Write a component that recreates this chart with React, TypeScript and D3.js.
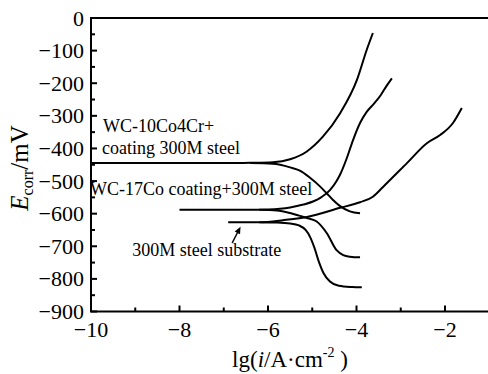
import React from "react";
import * as d3 from "d3";

// ---- data ----
const xTicks = [-10, -8, -6, -4, -2];
const xMinor = [-9, -7, -5, -3, -1];
const yTicks = [0, -100, -200, -300, -400, -500, -600, -700, -800, -900];
const yMinor = [-50, -150, -250, -350, -450, -550, -650, -750, -850];

// WC-10Co4Cr + 300M steel
const coCrAnodic: [number, number][] = [
  [-10, -445], [-7, -445], [-6.4, -444], [-5.89, -442], [-5.5, -433], [-5.13, -410],
  [-4.76, -364], [-4.37, -292], [-3.99, -190], [-3.77, -98], [-3.63, -46],
];
const coCrCathodic: [number, number][] = [
  [-6.4, -445], [-5.89, -447], [-5.5, -458], [-5.28, -468], [-5.05, -490], [-4.82, -517],
  [-4.67, -538], [-4.53, -558], [-4.37, -577], [-4.15, -593], [-3.92, -599],
];
// WC-17Co + 300M steel
const co17Anodic: [number, number][] = [
  [-8, -588], [-6.5, -588], [-6.0, -587], [-5.5, -581], [-5.2, -572], [-4.97, -562],
  [-4.8, -550], [-4.6, -528], [-4.45, -500], [-4.37, -480], [-4.22, -430], [-4.08, -375],
  [-3.92, -322], [-3.77, -288], [-3.6, -262], [-3.45, -236], [-3.32, -208], [-3.2, -185],
];
const co17Cathodic: [number, number][] = [
  [-6.2, -588], [-5.8, -590], [-5.5, -598], [-5.3, -606], [-5.1, -614], [-4.9, -624],
  [-4.67, -660], [-4.45, -712], [-4.3, -727], [-4.15, -732], [-3.92, -734],
];
// 300M steel substrate
const steelAnodic: [number, number][] = [
  [-6.9, -626], [-6.2, -626], [-5.66, -620], [-5.12, -610], [-4.37, -582], [-3.92, -565],
  [-3.63, -548], [-3.4, -518], [-2.86, -445], [-2.41, -384], [-2.11, -359], [-1.82, -322],
  [-1.62, -276],
];
const steelCathodic: [number, number][] = [
  [-6.2, -626], [-5.8, -627], [-5.5, -630], [-5.3, -636], [-5.15, -650], [-5.05, -671],
  [-4.95, -705], [-4.85, -748], [-4.75, -781], [-4.6, -808], [-4.4, -821], [-4.1, -825],
  [-3.88, -826],
];

const series = [coCrAnodic, coCrCathodic, co17Anodic, co17Cathodic, steelAnodic, steelCathodic];

const labels = [
  { text: "WC-10Co4Cr+", x: -9.73, y: -350 },
  { text: "coating 300M steel", x: -9.75, y: -418 },
  { text: "WC-17Co coating+300M steel", x: -10.02, y: -542 },
  { text: "300M steel substrate", x: -9.07, y: -730 },
];
const arrow = { from: [-6.81, -690], to: [-6.62, -640] };

const FONT = "Liberation Serif, Times New Roman, serif";
const tf = { fontFamily: FONT };

export default function App() {
  const W = 488, H = 374;
  const x = d3.scaleLinear().domain([-10, 0]).range([91, 533.5]);
  const y = d3.scaleLinear().domain([0, -900]).range([18, 311.5]);
  const line = d3
    .line<[number, number]>()
    .x((d) => x(d[0]))
    .y((d) => y(d[1]))
    .curve(d3.curveMonotoneX);

  const x0 = x(-10), x1 = x(0), yTop = y(0), yBot = y(-900);

  const ax = x(arrow.from[0]), ay = y(arrow.from[1]);
  const bx = x(arrow.to[0]), by = y(arrow.to[1]);
  const ang = Math.atan2(by - ay, bx - ax);
  const hl = 7, hw = 3;
  const p1 = [bx - hl * Math.cos(ang) + hw * Math.sin(ang), by - hl * Math.sin(ang) - hw * Math.cos(ang)];
  const p2 = [bx - hl * Math.cos(ang) - hw * Math.sin(ang), by - hl * Math.sin(ang) + hw * Math.cos(ang)];

  return (
    <svg
      width={W}
      height={H}
      style={{ position: "absolute", left: 0, top: 0, background: "#fff", fontFamily: FONT }}
    >
      <rect width={W} height={H} fill="#fff" />
      {/* frame */}
      <rect x={x0} y={yTop} width={x1 - x0} height={yBot - yTop} fill="none" stroke="#000" strokeWidth={2} />
      {/* x ticks */}
      {xTicks.map((t) => (
        <g key={"xt" + t}>
          <line x1={x(t)} x2={x(t)} y1={yBot} y2={yBot - 6} stroke="#000" strokeWidth={2} />
          <text x={x(t)} y={337} fontSize={22} textAnchor="middle" style={tf}>
            {t < 0 ? "\u2212" + Math.abs(t) : String(t)}
          </text>
        </g>
      ))}
      {xMinor.map((t) => (
        <line key={"xm" + t} x1={x(t)} x2={x(t)} y1={yBot} y2={yBot - 4} stroke="#000" strokeWidth={2} />
      ))}
      {/* y ticks */}
      {yTicks.map((t) => (
        <g key={"yt" + t}>
          <line x1={x0} x2={x0 + 6} y1={y(t)} y2={y(t)} stroke="#000" strokeWidth={2} />
          <text x={84} y={y(t) + 7.5} fontSize={22} textAnchor="end" style={tf}>
            {t < 0 ? "\u2212" + Math.abs(t) : String(t)}
          </text>
        </g>
      ))}
      {yMinor.map((t) => (
        <line key={"ym" + t} x1={x0} x2={x0 + 4} y1={y(t)} y2={y(t)} stroke="#000" strokeWidth={2} />
      ))}
      {/* curves */}
      {series.map((s, i) => (
        <path key={"s" + i} d={line(s) || ""} fill="none" stroke="#000" strokeWidth={2} />
      ))}
      {/* labels */}
      {labels.map((l) => (
        <text key={l.text} x={x(l.x)} y={y(l.y)} fontSize={18} style={tf}>
          {l.text}
        </text>
      ))}
      {/* arrow */}
      <line x1={ax} y1={ay} x2={bx - 4 * Math.cos(ang)} y2={by - 4 * Math.sin(ang)} stroke="#000" strokeWidth={1.5} />
      <polygon points={`${bx},${by} ${p1[0]},${p1[1]} ${p2[0]},${p2[1]}`} fill="#000" />
      {/* axis titles */}
      <text x={290} y={367} fontSize={23} textAnchor="middle" style={tf}>
        lg(<tspan fontStyle="italic">i</tspan>/A·cm
        <tspan fontSize={14} dy={-10}>-2</tspan>
        <tspan dy={10}> )</tspan>
      </text>
      <text transform="translate(28,168) rotate(-90)" fontSize={25} textAnchor="middle" style={tf}>
        <tspan fontStyle="italic">E</tspan>
        <tspan fontSize={16} dy={5}>corr</tspan>
        <tspan dy={-5}>/mV</tspan>
      </text>
    </svg>
  );
}
